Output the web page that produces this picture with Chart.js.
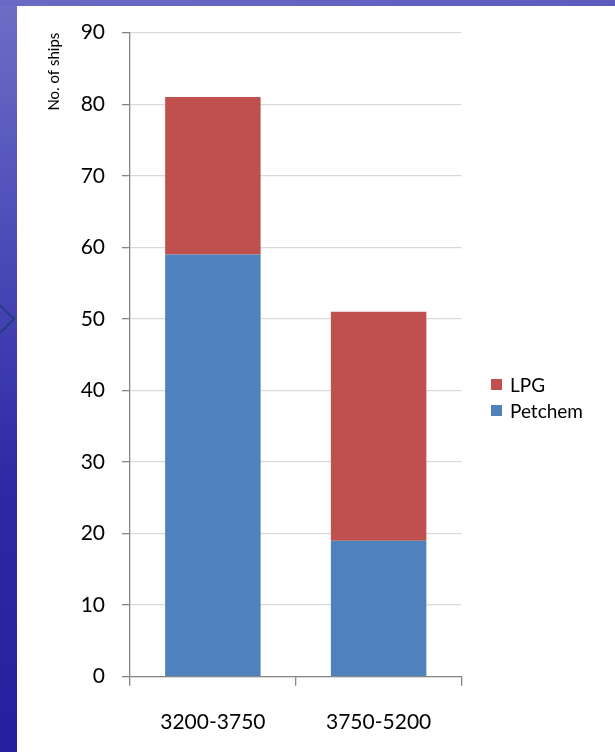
<!DOCTYPE html>
<html>
<head>
<meta charset="utf-8">
<script src="https://cdn.jsdelivr.net/npm/chart.js@4/dist/chart.umd.min.js"></script>
<style>
  html, body { margin: 0; padding: 0; }
  body {
    width: 615px; height: 752px; position: relative; overflow: hidden;
    background: linear-gradient(180deg, #6e6ec6 0%, #4a48b6 35%, #2e28a4 65%, #2620a0 100%);
    font-family: Lato, "Open Sans", sans-serif;
  }
  #topband {
    position: absolute; left: 0; top: 0; width: 615px; height: 6px;
    background: linear-gradient(90deg, #6a6ac4, #6262c2 60%, #5c5cbe);
  }
  #panel {
    position: absolute; left: 17px; top: 6px; width: 598px; height: 746px; background: #ffffff;
  }
  #chevron { position: absolute; left: 0; top: 300px; }
  #wrap { position: absolute; left: 0; top: 0; width: 615px; height: 752px; }
  #legend { position: absolute; left: 491px; top: 0; font-size: 19px; color: #000; }
  .item { position: absolute; left: 0; white-space: nowrap; display: flex; align-items: center; height: 22px; }
  .swatch { width: 11px; height: 11px; margin-right: 8px; }
</style>
</head>
<body>
<div id="topband"></div>
<svg id="chevron" width="17" height="40"><polyline points="0,5 14,19 0,33" fill="none" stroke="#1d3c7a" stroke-width="1.6"/></svg>
<div id="panel"></div>
<div id="wrap"><canvas id="chart" width="615" height="752"></canvas></div>
<div id="legend"></div>
<script>
// Ship counts by size band (cbm), split by cargo type
const categories = ['3200-3750', '3750-5200'];
const petchemShips = [59, 19];
const lpgShips = [22, 32];
const yAxisMin = 0;
const yAxisMax = 90;
const yAxisStep = 10;
const yAxisTitle = 'No. of ships';

const BLUE = '#4f81bd';
const RED = '#c0504d';
const AXIS_GREY = '#868686';
const GRID_GREY = '#d9d9d9';

const datasets = [
  { label: 'Petchem', data: petchemShips, backgroundColor: BLUE },
  { label: 'LPG', data: lpgShips, backgroundColor: RED }
];

const chart = new Chart(document.getElementById('chart'), {
  type: 'bar',
  data: { labels: categories, datasets },
  options: {
    responsive: false,
    animation: false,
    devicePixelRatio: 1,
    layout: { padding: { top: 32.7, right: 153.5, bottom: 0, left: 0 } },
    datasets: { bar: { barPercentage: 0.576, categoryPercentage: 1 } },
    plugins: { legend: { display: false }, tooltip: { enabled: false } },
    scales: {
      x: {
        stacked: true,
        grid: { display: true, drawOnChartArea: false, drawTicks: true, tickLength: 9, tickColor: AXIS_GREY, offset: true, lineWidth: 1.3 },
        border: { display: true, color: AXIS_GREY, width: 1.3 },
        ticks: { color: '#000', padding: 24, font: { family: 'Lato', size: 21 } },
        afterFit: (s) => { s.height = 752 - 676.7; }
      },
      y: {
        stacked: true,
        min: yAxisMin,
        max: yAxisMax,
        ticks: { stepSize: yAxisStep, color: '#000', padding: 17, font: { family: 'Lato', size: 21 } },
        grid: { color: GRID_GREY, lineWidth: 1.3, tickLength: 8, tickColor: AXIS_GREY },
        border: { display: true, color: AXIS_GREY, width: 1.3 },
        title: { display: true, text: yAxisTitle, align: 'end', color: '#000', padding: { top: 45, bottom: 0 }, font: { family: 'Lato', size: 15 } },
        afterFit: (s) => { s.width = 130; }
      }
    }
  }
});

// Legend on the right, top series listed first
const legendRows = { LPG: 384, Petchem: 410 };
const legend = document.getElementById('legend');
[...chart.data.datasets].reverse().forEach((ds) => {
  const row = document.createElement('div');
  row.className = 'item';
  row.style.top = (legendRows[ds.label] - 11) + 'px';
  const sw = document.createElement('span');
  sw.className = 'swatch';
  sw.style.background = ds.backgroundColor;
  const tx = document.createElement('span');
  tx.textContent = ds.label;
  row.appendChild(sw);
  row.appendChild(tx);
  legend.appendChild(row);
});
</script>
</body>
</html>
